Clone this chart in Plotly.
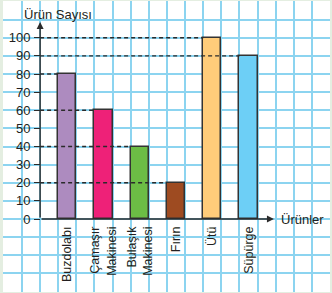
import plotly.graph_objects as go

# ---- data ----
categories = ["Buzdolabı", "Çamaşır<br>Makinesi", "Bulaşık<br>Makinesi", "Fırın", "Ütü", "Süpürge"]
values = [80, 60, 40, 20, 100, 90]
colors = ["#AD8BBF", "#EE2178", "#6CBD45", "#9E4B21", "#FFCC7A", "#6DCFF6"]
y_ticks = [0, 10, 20, 30, 40, 50, 60, 70, 80, 90, 100]
y_title = "Ürün Sayısı"
x_title = "Ürünler"

# ---- layout geometry (data units) ----
W, H = 332, 293
ml, mr, mt, mb = 3, 2, 1, 1
px_x0, px_unit = 67.3, 36.25       # pixel of x=0, pixels per category
px_y0, px_yunit = 219.0, 1.8125    # pixel of y=0, pixels per 1 unit
plot_w = W - ml - mr
plot_h = H - mt - mb
x_range = [(ml - px_x0) / px_unit, (W - mr - px_x0) / px_unit]
y_range = [-(H - mb - px_y0) / px_yunit, (px_y0 - mt) / px_yunit]
axis_x = -0.75
xpos = list(range(len(categories)))

DARK = "#2b2b2b"
GRID = "#8CD4F0"
FONT = "Liberation Sans, Arial, sans-serif"

fig = go.Figure()

# dashed guide lines from the y axis to each bar top
for i, v in enumerate(values):
    fig.add_trace(go.Scatter(
        x=[axis_x, xpos[i] - 0.25], y=[v, v], mode="lines",
        line=dict(color=DARK, width=1.3, dash="4px,3px"),
        hoverinfo="skip", showlegend=False))

fig.add_trace(go.Bar(
    x=xpos, y=values, width=0.5,
    marker=dict(color=colors, line=dict(color="#333333", width=1.5)),
    showlegend=False))

# dummy trace for the labelled axes
fig.add_trace(go.Scatter(x=xpos, y=values, xaxis="x2", yaxis="y2", mode="markers",
                         marker=dict(opacity=0), hoverinfo="skip", showlegend=False))

fig.update_layout(
    width=W, height=H,
    margin=dict(l=ml, r=mr, t=mt, b=mb, pad=0),
    paper_bgcolor="#E4EEE1",
    plot_bgcolor="white",
    font=dict(family=FONT, color="#231F20", size=13),
    xaxis=dict(range=x_range, tick0=0.25, dtick=0.5, showgrid=True, gridcolor=GRID,
               gridwidth=1.6, showticklabels=False, ticks="", zeroline=False,
               showline=False, fixedrange=True),
    yaxis=dict(range=y_range, tick0=0, dtick=10, showgrid=True, gridcolor=GRID,
               gridwidth=1.6, showticklabels=False, ticks="", zeroline=False,
               showline=False, fixedrange=True),
    xaxis2=dict(range=x_range, overlaying="x", anchor="free",
                position=(H - mb - px_y0) / plot_h, side="bottom",
                tickvals=xpos, ticktext=categories, tickangle=-90,
                ticks="", ticklabelstandoff=4, showgrid=False, zeroline=False,
                showline=False, tickfont=dict(size=12.5, family=FONT, color="#231F20")),
    yaxis2=dict(range=y_range, overlaying="y", anchor="free",
                position=(px_x0 + axis_x * px_unit - ml) / plot_w, side="left",
                tickvals=y_ticks, ticks="outside", ticklen=6, tickwidth=1.3,
                tickcolor=DARK, ticklabelstandoff=1, showgrid=False, zeroline=False,
                showline=False, tickfont=dict(size=13, family=FONT, color="#231F20")),
    bargap=0,
)

# axis lines with arrowheads
fig.add_annotation(x=axis_x, y=108.7, ax=axis_x, ay=0, xref="x", yref="y",
                   axref="x", ayref="y", text="", showarrow=True, arrowhead=2,
                   arrowsize=1, arrowwidth=1.4, arrowcolor=DARK)
fig.add_annotation(x=5.70, y=0, ax=axis_x, ay=0, xref="x", yref="y",
                   axref="x", ayref="y", text="", showarrow=True, arrowhead=2,
                   arrowsize=1, arrowwidth=1.4, arrowcolor=DARK)

fig.add_annotation(x=-0.27, y=113.1, xref="x", yref="y", text=y_title,
                   showarrow=False, xanchor="center", yanchor="middle",
                   font=dict(size=13, family=FONT, color="#231F20"))
fig.add_annotation(x=5.84, y=0, xref="x", yref="y", text=x_title,
                   showarrow=False, xanchor="left", yanchor="middle",
                   font=dict(size=13, family=FONT, color="#231F20"))

fig.write_html("out.html", config={"displayModeBar": False})
